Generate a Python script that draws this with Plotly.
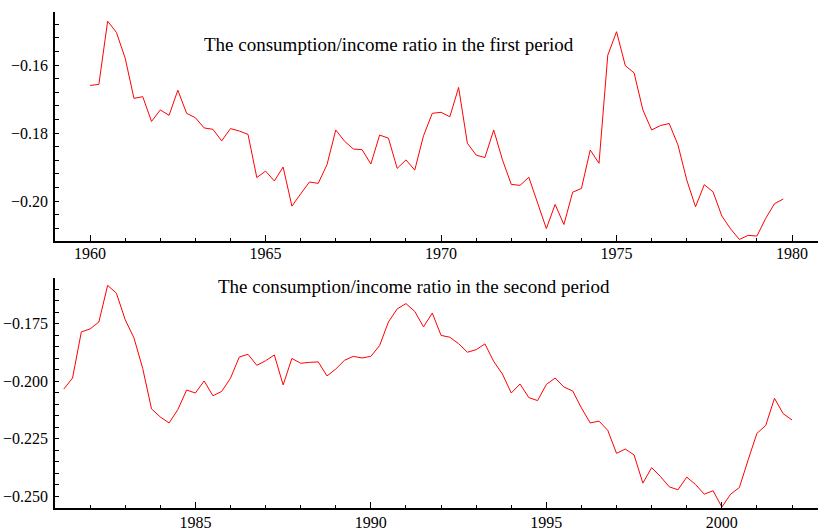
import numpy as np
import plotly.graph_objects as go

# Quarterly consumption/income ratio, first period 1960Q1-1979Q4
first_start = 1960.0
first_period = [
    -0.1660, -0.1657, -0.1471, -0.1504, -0.1580, -0.1698, -0.1693, -0.1766,
    -0.1732, -0.1748, -0.1674, -0.1742, -0.1755, -0.1785, -0.1789, -0.1823,
    -0.1787, -0.1794, -0.1804, -0.1931, -0.1912, -0.1941, -0.1900, -0.2015,
    -0.1979, -0.1944, -0.1948, -0.1893, -0.1791, -0.1824, -0.1847, -0.1849,
    -0.1891, -0.1806, -0.1815, -0.1904, -0.1879, -0.1909, -0.1808, -0.1742,
    -0.1739, -0.1752, -0.1666, -0.1830, -0.1865, -0.1872, -0.1791, -0.1879,
    -0.1951, -0.1954, -0.1930, -0.2007, -0.2081, -0.2010, -0.2069, -0.1974,
    -0.1963, -0.1850, -0.1889, -0.1571, -0.1502, -0.1602, -0.1623, -0.1732,
    -0.1791, -0.1778, -0.1772, -0.1835, -0.1938, -0.2017, -0.1952, -0.1973,
    -0.2044, -0.2082, -0.2113, -0.2101, -0.2103, -0.2051, -0.2008, -0.1994,
]

# Second period 1981Q2-2002Q1
second_start = 1981.25
second_period = [
    -0.2034, -0.1986, -0.1786, -0.1773, -0.1743, -0.1584, -0.1618, -0.1733,
    -0.1812, -0.1945, -0.2120, -0.2155, -0.2181, -0.2123, -0.2038, -0.2051,
    -0.1999, -0.2063, -0.2044, -0.1987, -0.1895, -0.1883, -0.1931, -0.1911,
    -0.1886, -0.2016, -0.1901, -0.1922, -0.1918, -0.1916, -0.1977, -0.1947,
    -0.1909, -0.1892, -0.1899, -0.1892, -0.1845, -0.1743, -0.1686, -0.1663,
    -0.1697, -0.1764, -0.1704, -0.1801, -0.1809, -0.1837, -0.1874, -0.1863,
    -0.1838, -0.1914, -0.1969, -0.2051, -0.2012, -0.2071, -0.2084, -0.2014,
    -0.1986, -0.2025, -0.2042, -0.2116, -0.2181, -0.2173, -0.2213, -0.2313,
    -0.2294, -0.2320, -0.2442, -0.2375, -0.2413, -0.2458, -0.2471, -0.2416,
    -0.2448, -0.2490, -0.2475, -0.2546, -0.2490, -0.2461, -0.2341, -0.2226,
    -0.2192, -0.2074, -0.2141, -0.2168,
]

title_first = "The consumption/income ratio in the first period"
title_second = "The consumption/income ratio in the second period"

x_first = first_start + np.arange(len(first_period)) / 4.0
x_second = second_start + np.arange(len(second_period)) / 4.0

FONT = "Liberation Serif"

fig = go.Figure()
fig.add_trace(go.Scatter(x=x_first, y=first_period, mode="lines",
                         line=dict(color="#ff0000", width=1), xaxis="x", yaxis="y",
                         showlegend=False))
fig.add_trace(go.Scatter(x=x_second, y=second_period, mode="lines",
                         line=dict(color="#ff0000", width=1), xaxis="x2", yaxis="y2",
                         showlegend=False))

axis_common = dict(showline=True, linecolor="black", linewidth=1.5, showgrid=False,
                   zeroline=False, ticks="inside", tickcolor="black", automargin=False,
                   tickfont=dict(family=FONT, size=16, color="black"))

fig.update_layout(
    width=818, height=530,
    margin=dict(l=55, r=0, t=12, b=22),
    paper_bgcolor="white", plot_bgcolor="white",
    font=dict(family=FONT, size=16, color="black"),
    xaxis=dict(**axis_common, domain=[0, 1], anchor="y", range=[1959.0, 1980.74],
               tick0=1960, dtick=5, ticklen=6, ticklabelstandoff=-3,
               minor=dict(ticks="inside", dtick=1, ticklen=3, tickcolor="black")),
    yaxis=dict(**axis_common, domain=[0.538, 1.0], anchor="x", range=[-0.2118, -0.1444],
               tick0=-0.16, dtick=0.02, ticklen=4, tickformat=".2f", ticklabelstandoff=2,
               minor=dict(ticks="inside", dtick=0.004, ticklen=4, tickcolor="black")),
    xaxis2=dict(**axis_common, domain=[0, 1], anchor="y2", range=[1981.0, 2002.74],
                tick0=1985, dtick=5, ticklen=6, ticklabelstandoff=-1,
                minor=dict(ticks="inside", dtick=1, ticklen=3, tickcolor="black")),
    yaxis2=dict(**axis_common, domain=[0, 0.4637], anchor="x2", range=[-0.2550, -0.1552],
                tick0=-0.175, dtick=0.025, ticklen=4, tickformat=".3f", ticklabelstandoff=2,
                minor=dict(ticks="inside", dtick=0.005, ticklen=4, tickcolor="black")),
    annotations=[
        dict(text=title_first, xref="paper", yref="paper", x=0.4377, y=0.9335,
             xanchor="center", yanchor="middle", showarrow=False,
             font=dict(family=FONT, size=19, color="black")),
        dict(text=title_second, xref="paper", yref="paper", x=0.4699, y=0.4456,
             xanchor="center", yanchor="middle", showarrow=False,
             font=dict(family=FONT, size=19, color="black")),
    ],
)

fig.write_html("out.html", config={"displayModeBar": False},
               post_script="document.body.style.margin='0';document.body.style.overflow='hidden';")
